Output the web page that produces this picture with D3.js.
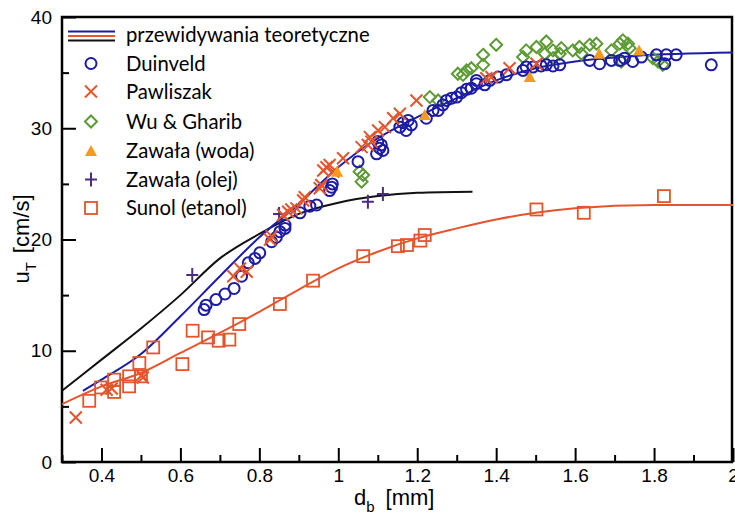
<html>
    <head>
        <script src="https://d3js.org/d3.v7.min.js"></script>
        <style>
            body { margin: 0; background: #fff; }
        </style>
    </head>
    <body>
        <script type="text/javascript">
            // theoretical curves [d_b, u_T]
            var curveBlack = [[0.3,6.4],[0.4,9.2],[0.5,12.0],[0.6,15.0],[0.7,18.3],[0.8,20.5],[0.9,22.3],[1.0,23.3],[1.1,23.9],[1.2,24.2],[1.34,24.3]];
            var curveBlue = [[0.353,6.4],[0.4,7.4],[0.5,9.7],[0.6,13.1],[0.7,16.7],[0.8,20.2],[0.9,23.2],[1.0,26.5],[1.1,29.1],[1.2,31.0],[1.3,32.7],[1.4,34.3],[1.5,35.4],[1.6,36.0],[1.75,36.5],[2.0,36.8]];
            var curveOrange = [[0.3,5.2],[0.4,6.8],[0.5,8.0],[0.6,9.8],[0.7,11.6],[0.8,13.5],[0.9,15.5],[1.0,17.4],[1.1,18.9],[1.2,20.1],[1.3,21.0],[1.4,21.8],[1.5,22.4],[1.6,22.8],[1.8,23.1],[2.0,23.1]];

            // measurements [d_b, u_T]
            var duinveld = [[0.66,13.7],[0.665,14.1],[0.69,14.6],[0.713,15.1],[0.736,15.6],[0.755,16.7],[0.772,17.9],[0.789,18.3],[0.801,18.8],[0.831,19.8],[0.843,20.2],[0.852,20.7],[0.865,21.0],[0.865,21.3],
                [0.903,22.4],[0.928,23.0],[0.945,23.1],[0.978,24.4],[0.983,24.7],[0.985,25.0],[1.05,27.0],[1.097,27.7],[1.105,28.2],[1.109,28.5],[1.10,28.8],[1.113,28.0],
                [1.156,30.1],[1.164,30.5],[1.172,29.8],[1.177,30.7],[1.185,30.3],[1.223,30.9],[1.24,31.6],[1.253,31.6],[1.265,32.1],[1.274,32.5],[1.287,32.7],[1.30,32.8],[1.312,33.2],[1.325,33.5],[1.337,33.6],[1.35,34.0],[1.35,34.3],[1.371,33.9],[1.384,34.3],[1.405,34.6],[1.426,34.8],
                [1.468,35.2],[1.476,35.5],[1.493,35.5],[1.514,35.6],[1.527,35.7],[1.544,35.6],[1.561,35.7],[1.637,36.1],[1.662,35.8],[1.692,36.1],[1.713,36.1],[1.725,36.3],[1.746,36.0],[1.768,36.4],[1.806,36.6],[1.831,36.6],[1.856,36.6],[1.827,35.8],[1.945,35.7]];
            var pawliszak = [[0.335,4.0],[0.413,6.5],[0.426,6.6],[0.502,7.8],[0.505,7.6],[0.734,16.7],[0.751,17.4],[0.768,17.1],[0.827,20.0],[0.831,20.3],[0.860,22.2],[0.873,22.5],[0.881,22.7],[0.894,22.8],
                [0.911,23.5],[0.915,23.8],[0.953,24.6],[0.957,24.9],[0.962,26.2],[0.970,26.5],[0.978,26.7],[0.987,26.1],[1.012,27.3],[1.059,28.3],[1.075,28.5],[1.084,28.8],[1.08,29.2],[1.101,29.8],[1.118,30.1],[1.139,30.9],[1.156,31.3],[1.198,32.5],[1.375,34.5],[1.388,34.6],[1.434,35.4],[1.502,35.8]];
            var wuGharib = [[1.054,26.1],[1.063,25.8],[1.059,25.2],[1.232,32.8],[1.253,32.5],[1.303,34.9],[1.325,35.2],[1.337,35.4],[1.316,34.8],[1.367,35.7],[1.367,36.6],[1.400,37.5],[1.468,36.4],[1.476,37.0],[1.502,37.3],[1.527,37.8],[1.523,36.7],[1.544,37.0],[1.544,36.3],
                [1.565,37.2],[1.561,36.7],[1.594,37.0],[1.611,37.3],[1.616,36.7],[1.637,37.5],[1.654,37.6],[1.692,37.0],[1.713,37.6],[1.721,37.9],[1.734,37.6],[1.738,37.2],[1.717,36.0],[1.797,36.3],[1.810,36.0],[1.822,35.7]];
            var zawalaWoda = [[0.997,26.1],[1.219,31.2],[1.485,34.6],[1.661,36.7],[1.762,37.0]];
            var zawalaOlej = [[0.630,16.8],[0.850,22.3],[1.075,23.4],[1.113,24.1]];
            var sunol = [[0.369,5.5],[0.399,6.7],[0.432,7.4],[0.432,6.3],[0.470,7.7],[0.470,6.8],[0.496,8.9],[0.5,7.7],[0.531,10.3],[0.605,8.8],[0.631,11.8],[0.670,11.2],[0.697,10.9],[0.724,11.0],[0.749,12.4],
                [0.852,14.2],[0.936,16.3],[1.063,18.5],[1.151,19.4],[1.174,19.5],[1.208,19.9],[1.219,20.4],[1.502,22.7],[1.622,22.4],[1.825,23.9]];

            var xMajor = [0.4,0.6,0.8,1.0,1.2,1.4,1.6,1.8,2.0];
            var xMinor = [0.3,0.5,0.7,0.9,1.1,1.3,1.5,1.7,1.9];
            var yMajor = [0,10,20,30,40];
            var yMinor = [5,15,25,35];

            var legendLabels = ["Duinveld","Pawliszak","Wu & Gharib","Zawała (woda)","Zawała (olej)","Sunol (etanol)"];

            const width = 735;
            const height = 517;
            const margin = {top: 17, right: 2, bottom: 55, left: 62};

            var blue = "#1c1ca6", red = "#e4552c", green = "#5c9b34", amber = "#f59a1c", purple = "#4b2c80";

            const svg = d3.select('body')
                .append('svg')
                .attr('width', width)
                .attr('height', height);

            var x = d3.scaleLinear().domain([0.3, 2.0]).range([margin.left, width - margin.right]);
            var y = d3.scaleLinear().domain([0, 40]).range([height - margin.bottom, margin.top]);

            // ticks pointing inward
            svg.append("g")
                .attr("transform", "translate(0," + y(0) + ")")
                .call(d3.axisBottom(x).tickValues(xMajor).tickSize(-14).tickPadding(7)
                    .tickFormat(d => d === 1 || d === 2 ? d3.format("d")(d) : d3.format(".1f")(d)));
            svg.append("g")
                .attr("transform", "translate(0," + y(0) + ")")
                .call(d3.axisBottom(x).tickValues(xMinor).tickSize(-7).tickFormat(""));
            svg.append("g")
                .attr("transform", "translate(" + x(0.3) + ",0)")
                .call(d3.axisLeft(y).tickValues(yMajor).tickSize(-14).tickPadding(10));
            svg.append("g")
                .attr("transform", "translate(" + x(0.3) + ",0)")
                .call(d3.axisLeft(y).tickValues(yMinor).tickSize(-7).tickFormat(""));

            svg.selectAll(".domain").remove();
            svg.selectAll(".tick line").attr("stroke", "#000").attr("stroke-width", 2);
            svg.selectAll(".tick text")
                .style("font-family", "'Liberation Sans', Arial, sans-serif")
                .style("font-size", "19px")
                .attr("fill", "#000");

            // frame
            svg.append("rect")
                .attr("x", x(0.3))
                .attr("y", y(40))
                .attr("width", x(2.0) - x(0.3) - 1)
                .attr("height", y(0) - y(40))
                .attr("fill", "none")
                .attr("stroke", "#000")
                .attr("stroke-width", 2.5);

            // axis titles
            var xt = svg.append("text")
                .attr("x", 354)
                .attr("y", 505)
                .style("font-family", "'Liberation Sans', Arial, sans-serif")
                .style("font-size", "22px");
            xt.append("tspan").text("d");
            xt.append("tspan").attr("dy", 7).style("font-size", "15px").text("b");
            xt.append("tspan").attr("dy", -7).attr("dx", 11).text("[mm]");

            var yt = svg.append("text")
                .attr("transform", "translate(29,239) rotate(-90)")
                .attr("text-anchor", "middle")
                .style("font-family", "'Liberation Sans', Arial, sans-serif")
                .style("font-size", "22px");
            yt.append("tspan").text("u");
            yt.append("tspan").attr("dy", 7).style("font-size", "15px").text("T");
            yt.append("tspan").attr("dy", -7).attr("dx", 9).text("[cm/s]");

            var line = d3.line()
                .x(d => x(d[0]))
                .y(d => y(d[1]))
                .curve(d3.curveMonotoneX);

            svg.append("path").datum(curveBlack).attr("d", line)
                .attr("fill", "none").attr("stroke", "#111").attr("stroke-width", 2);
            svg.append("path").datum(curveOrange).attr("d", line)
                .attr("fill", "none").attr("stroke", red).attr("stroke-width", 2);
            svg.append("path").datum(curveBlue).attr("d", line)
                .attr("fill", "none").attr("stroke", blue).attr("stroke-width", 2);

            // marker drawing
            function drawMarker(g, type, cx, cy) {
                if (type === "circle") {
                    g.append("circle").attr("cx", cx).attr("cy", cy).attr("r", 5.5)
                        .attr("fill", "none").attr("stroke", blue).attr("stroke-width", 2);
                } else if (type === "cross") {
                    g.append("path").attr("d", "M" + (cx-6) + "," + (cy-6) + "L" + (cx+6) + "," + (cy+6) + "M" + (cx-6) + "," + (cy+6) + "L" + (cx+6) + "," + (cy-6))
                        .attr("stroke", red).attr("stroke-width", 2).attr("fill", "none");
                } else if (type === "diamond") {
                    g.append("path").attr("d", "M" + cx + "," + (cy-6) + "L" + (cx+6) + "," + cy + "L" + cx + "," + (cy+6) + "L" + (cx-6) + "," + cy + "Z")
                        .attr("stroke", green).attr("stroke-width", 2).attr("fill", "none");
                } else if (type === "triangle") {
                    g.append("path").attr("d", "M" + cx + "," + (cy-6) + "L" + (cx+6) + "," + (cy+5) + "L" + (cx-6) + "," + (cy+5) + "Z")
                        .attr("fill", amber);
                } else if (type === "plus") {
                    g.append("path").attr("d", "M" + (cx-6) + "," + cy + "L" + (cx+6) + "," + cy + "M" + cx + "," + (cy-7) + "L" + cx + "," + (cy+7))
                        .attr("stroke", purple).attr("stroke-width", 2).attr("fill", "none");
                } else if (type === "square") {
                    g.append("rect").attr("x", cx-6).attr("y", cy-6).attr("width", 12).attr("height", 12)
                        .attr("stroke", red).attr("stroke-width", 1.8).attr("fill", "none");
                }
            }

            var series = [
                {data: sunol, type: "square"},
                {data: zawalaOlej, type: "plus"},
                {data: wuGharib, type: "diamond"},
                {data: duinveld, type: "circle"},
                {data: pawliszak, type: "cross"},
                {data: zawalaWoda, type: "triangle"}
            ];
            var marks = svg.append("g");
            series.forEach(function(s) {
                s.data.forEach(function(d) {
                    drawMarker(marks, s.type, x(d[0]), y(d[1]));
                });
            });

            // legend
            var legend = svg.append("g");
            [[blue, 31.5], [red, 36], [ "#111", 40.5]].forEach(function(l) {
                legend.append("line").attr("x1", 68).attr("x2", 115).attr("y1", l[1]).attr("y2", l[1])
                    .attr("stroke", l[0]).attr("stroke-width", 2);
            });
            legend.append("text").attr("x", 126).attr("y", 42)
                .style("font-family", "Lato, 'Open Sans', sans-serif").style("font-size", "20.3px")
                .text("przewidywania teoretyczne");

            var legendTypes = ["circle","cross","diamond","triangle","plus","square"];
            var legendY = [63.5, 91.5, 121.5, 151, 179.5, 208];
            legendLabels.forEach(function(lab, i) {
                drawMarker(legend, legendTypes[i], 91, legendY[i]);
                legend.append("text").attr("x", 126).attr("y", legendY[i] + 7)
                    .style("font-family", "Lato, 'Open Sans', sans-serif").style("font-size", "20.3px")
                    .text(lab);
            });
        </script>
    </body>
</html>
